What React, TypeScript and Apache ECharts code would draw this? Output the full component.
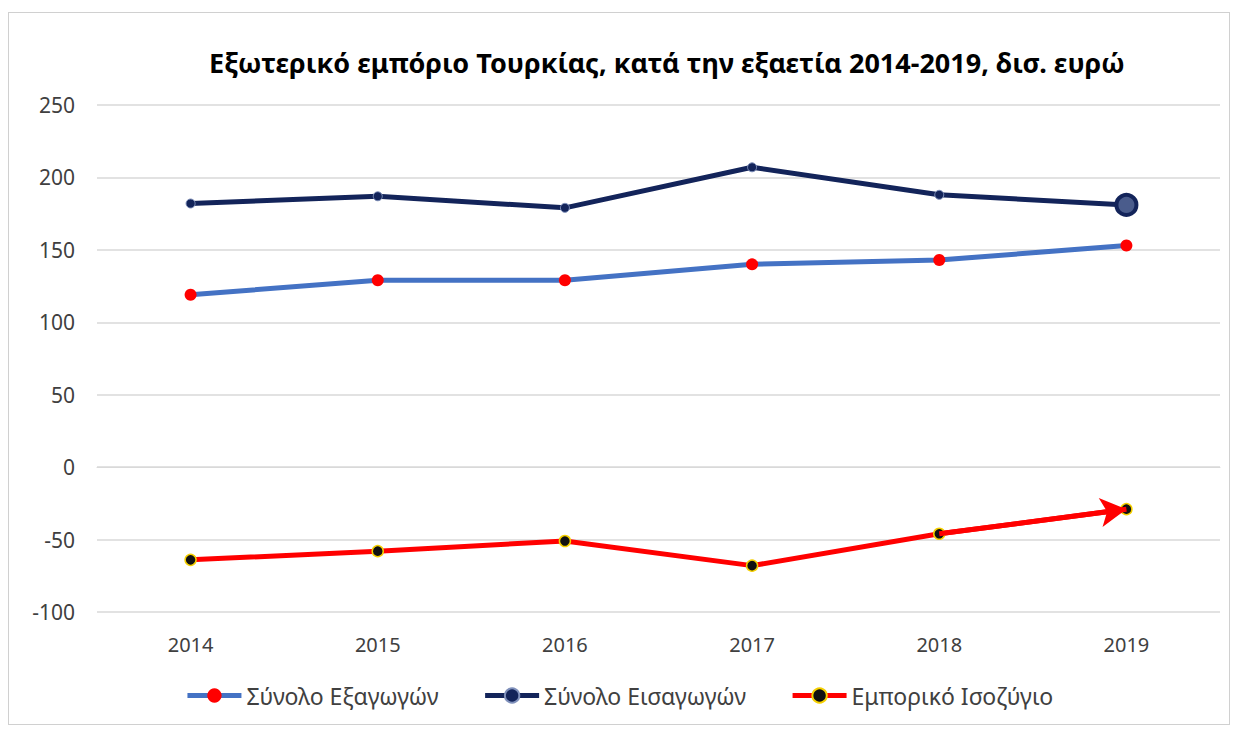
import React, { useEffect, useRef } from "react";
import * as echarts from "echarts";

const years = ["2014", "2015", "2016", "2017", "2018", "2019"];
const exportsTotal = [119, 129, 129, 140, 143, 153];
const importsTotal = [182, 187, 179, 207, 188, 181];
const tradeBalance = [-64, -58, -51, -68, -46, -29];

const titleText = "Εξωτερικό εμπόριο Τουρκίας, κατά την εξαετία 2014-2019, δισ. ευρώ";
const seriesNames = ["Σύνολο Εξαγωγών", "Σύνολο Εισαγωγών", "Εμπορικό Ισοζύγιο"];

const FONT = "'Noto Sans', sans-serif";

export default function App() {
  const ref = useRef<HTMLDivElement>(null);
  useEffect(() => {
    if (!ref.current) return;
    const chart = echarts.init(ref.current, null, { renderer: "svg" });
    const last = years.length - 1;
    chart.setOption({
      animation: false,
      backgroundColor: "#ffffff",
      title: {
        text: titleText,
        left: 662,
        textAlign: "center",
        top: 44,
        textStyle: { fontFamily: FONT, fontWeight: "bold", fontSize: 27, color: "#000000" },
      },
      grid: { left: 97, right: 18, top: 105, bottom: 121, containLabel: false },
      legend: {
        bottom: 21,
        left: "center",
        itemWidth: 54,
        itemHeight: 18,
        itemGap: 44,
        lineStyle: { width: 5 },
        textStyle: { fontFamily: FONT, fontSize: 23, color: "#404040" },
        data: seriesNames,
      },
      xAxis: {
        type: "category",
        data: years,
        boundaryGap: true,
        axisLine: { show: true, lineStyle: { color: "#d9d9d9" } },
        axisTick: { show: false },
        axisLabel: { fontFamily: FONT, fontSize: 20, color: "#404040", margin: 22 },
      },
      yAxis: {
        type: "value",
        min: -100,
        max: 250,
        interval: 50,
        axisLine: { show: false },
        axisTick: { show: false },
        splitLine: { lineStyle: { color: "#d9d9d9", width: 1.5 } },
        axisLabel: { fontFamily: FONT, fontSize: 21, color: "#404040", margin: 22 },
      },
      series: [
        {
          name: seriesNames[0],
          type: "line",
          data: exportsTotal,
          symbol: "circle",
          symbolSize: 12,
          lineStyle: { color: "#4472C4", width: 5 },
          itemStyle: { color: "#FF0000", borderWidth: 0 },
          z: 3,
        },
        {
          name: seriesNames[1],
          type: "line",
          data: importsTotal.map((v, i) =>
            i === last
              ? {
                  value: v,
                  symbolSize: 20,
                  itemStyle: { color: "#4a5c8c", borderColor: "#13245a", borderWidth: 4 },
                }
              : v
          ),
          symbol: "circle",
          symbolSize: 9,
          lineStyle: { color: "#13245a", width: 5 },
          itemStyle: { color: "#13245a", borderColor: "#7f90bb", borderWidth: 1 },
          z: 3,
        },
        {
          name: seriesNames[2],
          type: "line",
          data: tradeBalance,
          symbol: "circle",
          symbolSize: 11,
          lineStyle: { color: "#FF0000", width: 5 },
          itemStyle: { color: "#111111", borderColor: "#F5D000", borderWidth: 1.5 },
          z: 4,
          markLine: {
            silent: true,
            symbol: ["none", "arrow"],
            symbolSize: [22, 26],
            label: { show: false },
            lineStyle: { color: "#FF0000", width: 5, type: "solid" },
            data: [
              [
                { coord: [years[last - 1], tradeBalance[last - 1]] },
                { coord: [years[last], tradeBalance[last]] },
              ],
            ],
          },
        },
      ],
    });
    return () => chart.dispose();
  }, []);
  return (
    <div
      style={{
        position: "absolute",
        left: 0,
        top: 0,
        width: 1238,
        height: 733,
        background: "#fff",
      }}
    >
      <div ref={ref} style={{ position: "absolute", left: 0, top: 0, width: 1238, height: 733 }} />
      <div
        style={{
          position: "absolute",
          left: 8,
          top: 12,
          width: 1222,
          height: 713,
          border: "1.5px solid #d0d0d0",
          boxSizing: "border-box",
          pointerEvents: "none",
        }}
      />
    </div>
  );
}
